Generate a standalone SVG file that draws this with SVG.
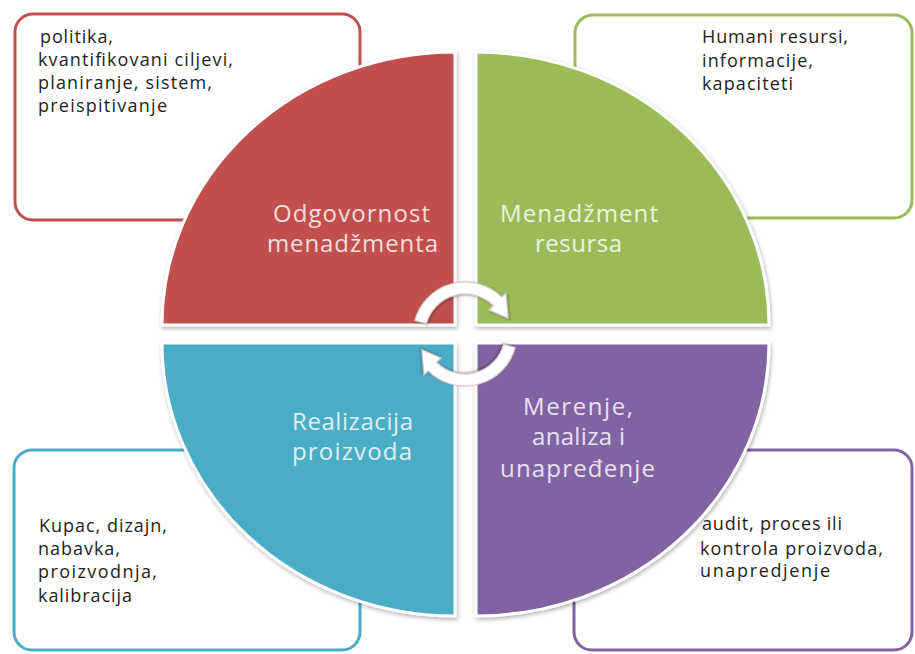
<svg xmlns="http://www.w3.org/2000/svg" width="915" height="654" viewBox="0 0 915 654">
<defs>
<filter id="sh" x="-10%" y="-10%" width="120%" height="120%">
<feDropShadow dx="1" dy="2" stdDeviation="2" flood-color="#000" flood-opacity="0.3"/>
</filter>
<filter id="sh2" x="-20%" y="-20%" width="140%" height="140%">
<feDropShadow dx="1" dy="1" stdDeviation="1.2" flood-color="#000" flood-opacity="0.35"/>
</filter>
</defs>
<style>
.box{fill:#fff;stroke-width:3}
.q{stroke:#fff;stroke-width:3;filter:url(#sh)}
.bt{font-family:"Open Sans","Liberation Sans",sans-serif;font-size:18px;fill:#1e1e1e}
.lt{font-family:"Open Sans","Liberation Sans",sans-serif;font-size:24px;text-anchor:start}
.arr{fill:#fff;stroke:#d8c8c8;stroke-width:1.2;filter:url(#sh2)}
</style>
<rect width="915" height="654" fill="#fff"/>

<g id="box-red">
<rect class="box" x="15" y="14" width="345" height="206" rx="18" stroke="#C0504D"/>
<text class="bt" x="40" y="43" textLength="73" lengthAdjust="spacing">politika,</text>
<text class="bt" x="38" y="66" textLength="195" lengthAdjust="spacing">kvantifikovani ciljevi,</text>
<text class="bt" x="38" y="89" textLength="174" lengthAdjust="spacing">planiranje, sistem,</text>
<text class="bt" x="38" y="112" textLength="129" lengthAdjust="spacing">preispitivanje</text>
</g>
<g id="box-green">
<rect class="box" x="575" y="15" width="337" height="203" rx="18" stroke="#9BBB59"/>
<text class="bt" x="702" y="43" textLength="146" lengthAdjust="spacing">Humani resursi,</text>
<text class="bt" x="702" y="67" textLength="111" lengthAdjust="spacing">informacije,</text>
<text class="bt" x="702" y="90" textLength="91" lengthAdjust="spacing">kapaciteti</text>
</g>
<g id="box-blue">
<rect class="box" x="14" y="450" width="346" height="200" rx="18" stroke="#4BACC6"/>
<text class="bt" x="39" y="532" textLength="128" lengthAdjust="spacing">Kupac, dizajn,</text>
<text class="bt" x="38" y="555" textLength="82" lengthAdjust="spacing">nabavka,</text>
<text class="bt" x="38" y="578" textLength="119" lengthAdjust="spacing">proizvodnja,</text>
<text class="bt" x="38" y="602" textLength="94" lengthAdjust="spacing">kalibracija</text>
</g>
<g id="box-purple">
<rect class="box" x="574" y="450" width="338" height="200" rx="18" stroke="#8064A2"/>
<text class="bt" x="702" y="530" textLength="140" lengthAdjust="spacing">audit, proces ili</text>
<text class="bt" x="700" y="555" textLength="183" lengthAdjust="spacing">kontrola proizvoda,</text>
<text class="bt" x="700" y="577" textLength="130" lengthAdjust="spacing">unapredjenje</text>
</g>

<g id="q-red">
<path class="q" d="M455 325 L162 325 A293 273 0 0 1 455 52 Z" fill="#C0504D"/>
<text class="lt" x="273" y="222" fill="#F4DEDD" textLength="157" lengthAdjust="spacing">Odgovornost</text>
<text class="lt" x="267" y="252" fill="#F4DEDD" textLength="171" lengthAdjust="spacing">menadžmenta</text>
</g>
<g id="q-green">
<path class="q" d="M476 325 L476 52 A293 273 0 0 1 769 325 Z" fill="#9BBB59"/>
<text class="lt" x="500" y="222" fill="#EEF3E0" textLength="158" lengthAdjust="spacing">Menadžment</text>
<text class="lt" x="535" y="252" fill="#EEF3E0" textLength="87" lengthAdjust="spacing">resursa</text>
</g>
<g id="q-blue">
<path class="q" d="M455 343 L455 616 A293 273 0 0 1 162 343 Z" fill="#4BACC6"/>
<text class="lt" x="292" y="430" fill="#DDF0F5" textLength="121" lengthAdjust="spacing">Realizacija</text>
<text class="lt" x="292" y="460" fill="#DDF0F5" textLength="120" lengthAdjust="spacing">proizvoda</text>
</g>
<g id="q-purple">
<path class="q" d="M476 343 L769 343 A293 273 0 0 1 476 616 Z" fill="#8064A2"/>
<text class="lt" x="523" y="415" fill="#E8E2EF" textLength="110" lengthAdjust="spacing">Merenje,</text>
<text class="lt" x="532" y="445" fill="#E8E2EF" textLength="93" lengthAdjust="spacing">analiza i</text>
<text class="lt" x="500" y="477" fill="#E8E2EF" textLength="155" lengthAdjust="spacing">unapređenje</text>
</g>

<g id="connectors">
<path class="arr" d="M414.8 320.5 A52 52 0 0 1 501.8 297.2 L506 293 L508.2 318.3 L489 310 L493.3 305.7 A40 40 0 0 0 426.4 323.6 Z"/>
<path class="arr" transform="rotate(180 465 334)" d="M414.8 320.5 A52 52 0 0 1 501.8 297.2 L506 293 L508.2 318.3 L489 310 L493.3 305.7 A40 40 0 0 0 426.4 323.6 Z"/>
</g>
</svg>
